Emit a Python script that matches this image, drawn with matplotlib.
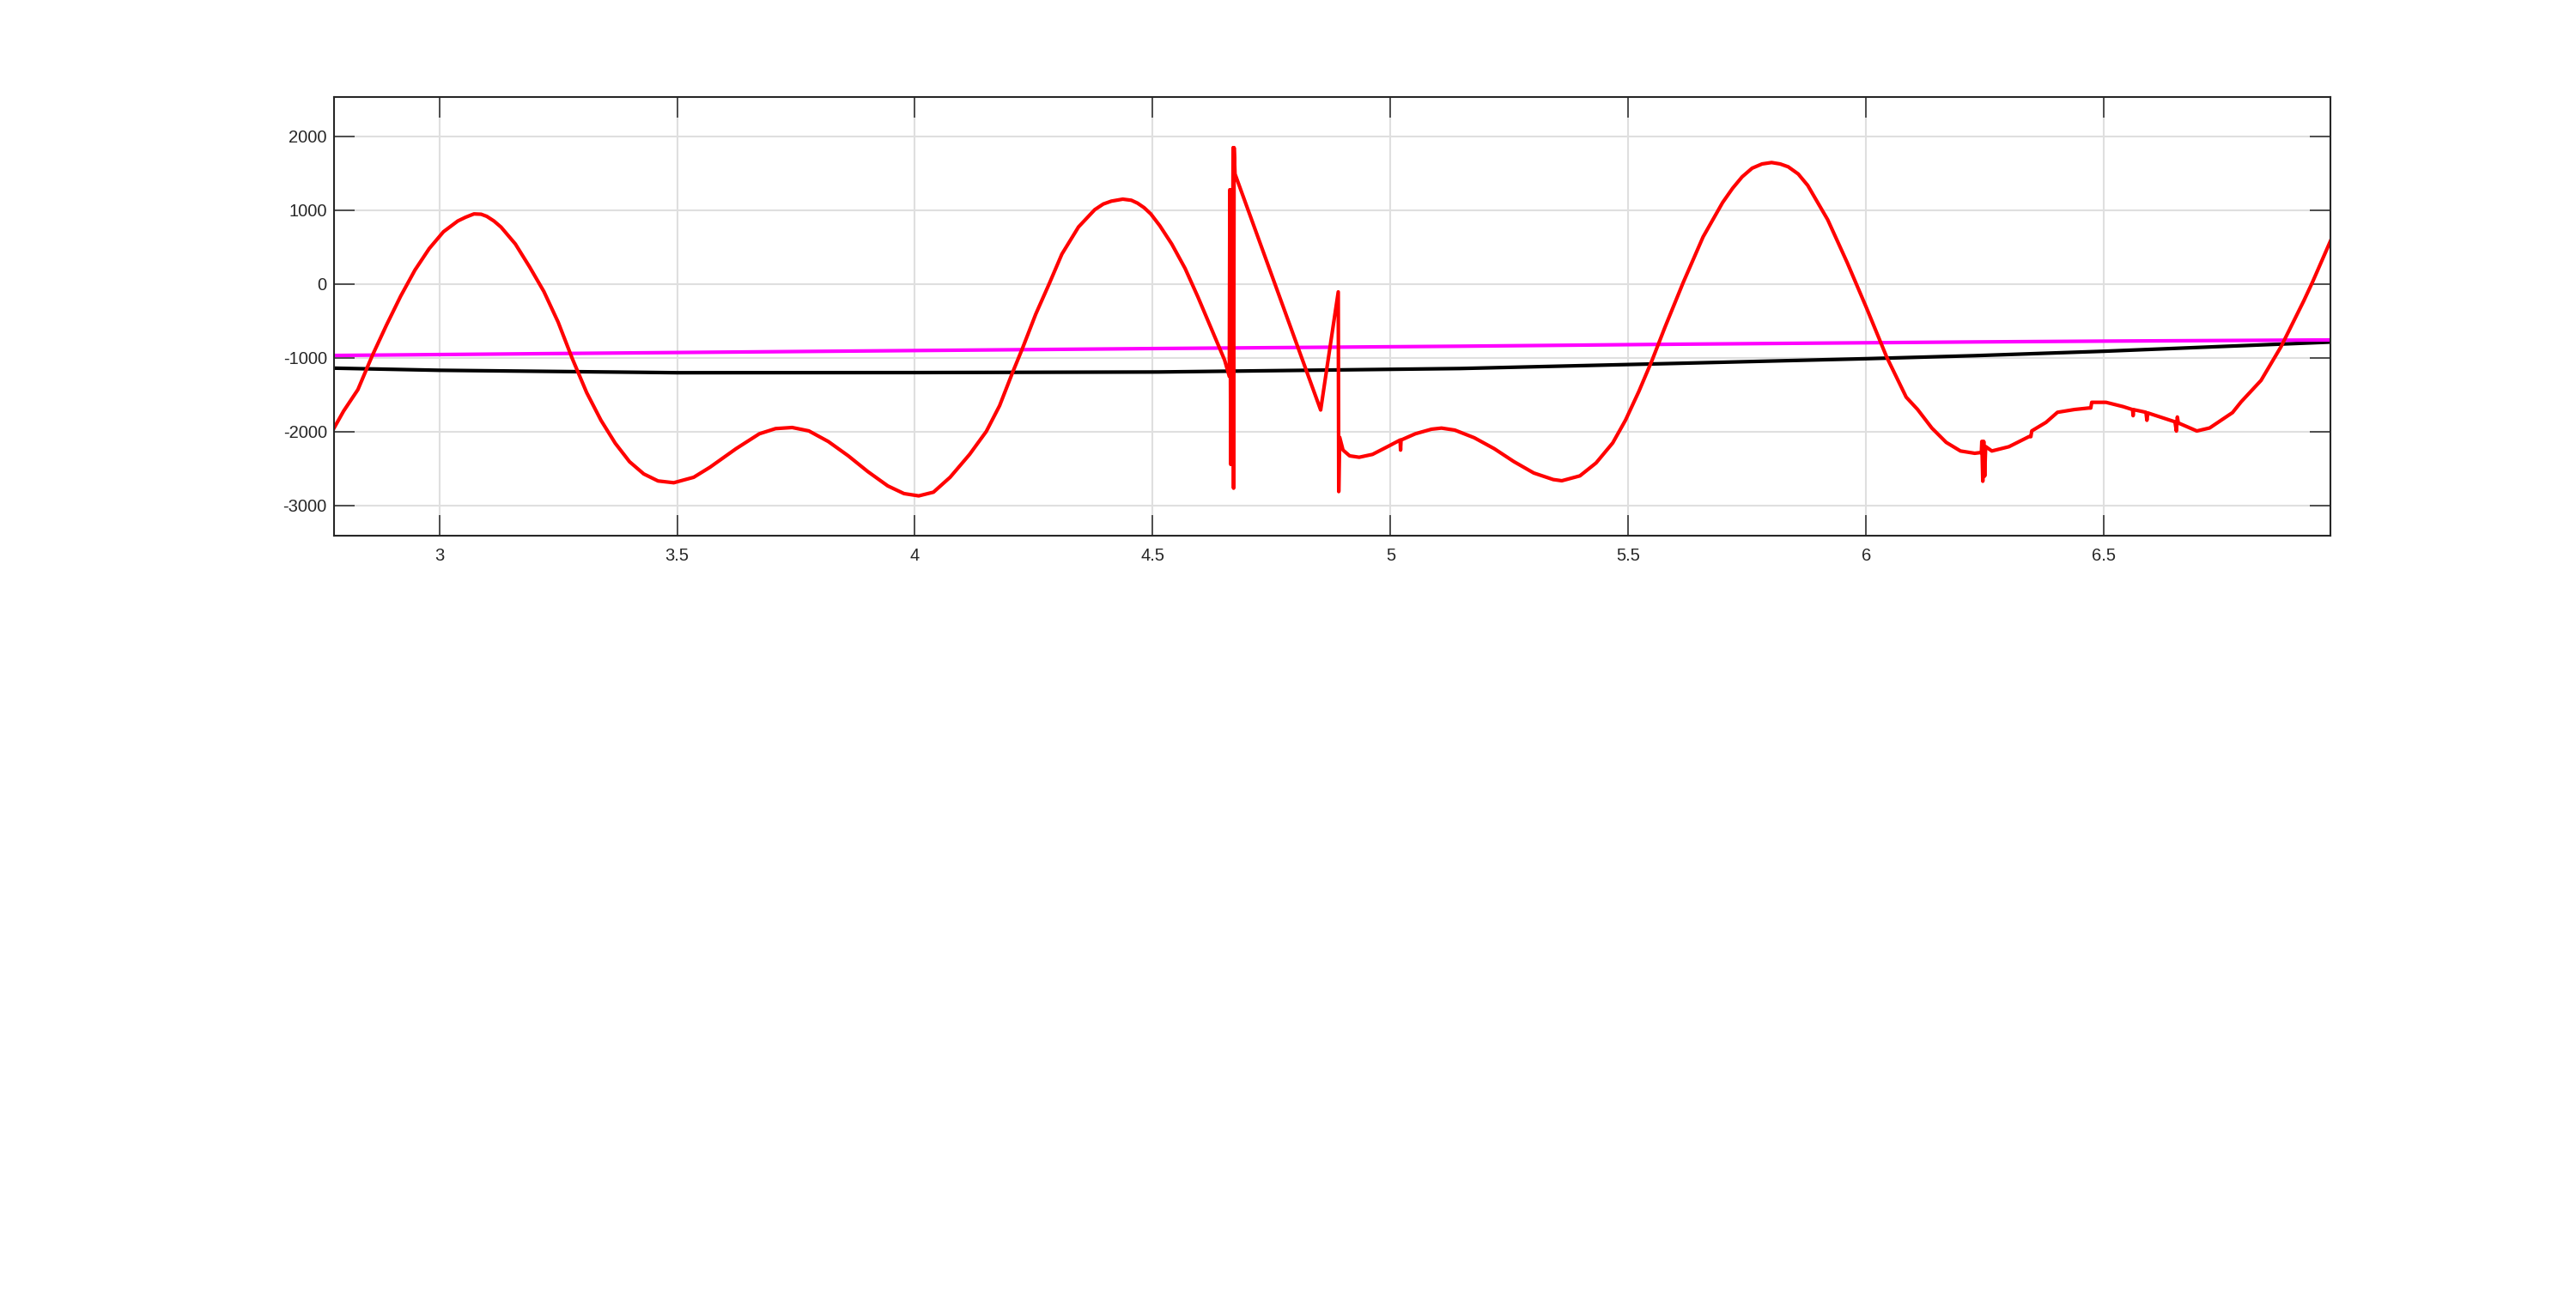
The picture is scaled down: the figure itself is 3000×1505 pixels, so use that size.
import numpy as np
import matplotlib
matplotlib.use('Agg')
import matplotlib.pyplot as plt
from matplotlib.ticker import FormatStrFormatter

plt.rcParams['font.family'] = ['Liberation Sans', 'DejaVu Sans']
plt.rcParams['axes.unicode_minus'] = False

# red trace
red_x = [2.779, 2.799, 2.829, 2.859, 2.889, 2.919, 2.949, 2.979, 3.009, 3.039,
         3.055, 3.073, 3.088, 3.100, 3.115, 3.130, 3.160, 3.190, 3.220, 3.250,
         3.280, 3.310, 3.340, 3.370, 3.400, 3.430, 3.460, 3.493, 3.535, 3.569,
         3.624, 3.673, 3.707, 3.742, 3.777, 3.818, 3.860, 3.901, 3.943, 3.977,
         4.008, 4.039, 4.074, 4.115, 4.150, 4.178, 4.205, 4.226, 4.254, 4.282,
         4.309, 4.344, 4.378, 4.396, 4.413, 4.437, 4.455, 4.468, 4.482, 4.496,
         4.515, 4.540, 4.568, 4.595, 4.623, 4.651, 4.661, 4.662, 4.664, 4.665,
         4.666, 4.669, 4.670, 4.671, 4.673, 4.853, 4.890, 4.891, 4.893, 4.900,
         4.914, 4.934, 4.962, 4.997, 5.020, 5.021, 5.022, 5.052, 5.086, 5.107,
         5.135, 5.176, 5.218, 5.259, 5.301, 5.342, 5.360, 5.398, 5.432, 5.467,
         5.494, 5.522, 5.550, 5.577, 5.615, 5.657, 5.698, 5.719, 5.739, 5.760,
         5.781, 5.801, 5.819, 5.836, 5.857, 5.877, 5.919, 5.960, 6.001, 6.043,
         6.084, 6.108, 6.138, 6.168, 6.198, 6.228, 6.242, 6.243, 6.245, 6.247,
         6.249, 6.251, 6.264, 6.300, 6.342, 6.346, 6.348, 6.378, 6.402, 6.438,
         6.468, 6.472, 6.474, 6.504, 6.540, 6.560, 6.561, 6.562, 6.588, 6.590,
         6.592, 6.649, 6.652, 6.654, 6.656, 6.695, 6.722, 6.770, 6.788, 6.830,
         6.872, 6.920, 6.938, 6.976]
red_y = [-1948, -1719, -1429, -972, -556, -162, 191, 482, 710, 855,
         905, 951, 947, 918, 855, 772, 544, 233, -100, -515,
         -1013, -1470, -1844, -2155, -2405, -2571, -2666, -2690, -2616, -2481,
         -2229, -2027, -1957, -1942, -1988, -2132, -2326, -2539, -2733, -2837,
         -2868, -2818, -2616, -2306, -1996, -1647, -1202, -872, -407, 0,
         407, 775, 1008, 1085, 1124, 1151, 1136, 1097, 1035, 950,
         790, 543, 213, -174, -601, -1027, -1250, 1279, -2442, 1279,
         -2442, 1849, -2764, 1849, 1492, -1705, -105, -2810, -2074, -2248,
         -2326, -2345, -2306, -2190, -2112, -2248, -2112, -2027, -1965, -1950,
         -1977, -2081, -2229, -2403, -2558, -2647, -2663, -2597, -2422, -2151,
         -1841, -1453, -1027, -581, 19, 640, 1105, 1298, 1453, 1570,
         1628, 1647, 1628, 1589, 1492, 1337, 872, 291, -329, -988,
         -1531, -1698, -1950, -2143, -2260, -2291, -2280, -2130, -2670, -2130,
         -2600, -2200, -2260, -2202, -2066, -2066, -1988, -1872, -1736, -1698,
         -1678, -1678, -1601, -1601, -1659, -1700, -1782, -1700, -1736, -1844,
         -1745, -1865, -1990, -1800, -1880, -1989, -1948, -1740, -1595, -1304,
         -847, -224, 25, 586]

# magenta trace
mag_x = [2.779, 3.431, 4.515, 5.146, 5.597, 6.228, 6.500, 6.976]
mag_y = [-966, -930, -872, -841, -814, -783, -772, -756]

# black trace
blk_x = [2.779, 3.000, 3.431, 3.500, 4.000, 4.512, 5.146, 5.597, 6.000, 6.228, 6.500, 6.976]
blk_y = [-1138, -1167, -1195, -1200, -1198, -1190, -1143, -1074, -1010, -969, -909, -785]

x_ticks = [3, 3.5, 4, 4.5, 5, 5.5, 6, 6.5]
y_ticks = [-3000, -2000, -1000, 0, 1000, 2000]

fig = plt.figure(figsize=(30, 15.05), dpi=100)
ax = fig.add_axes([0.1297, 0.5854, 0.775, 0.3396])

ax.plot(blk_x, blk_y, color='black', lw=3)
ax.plot(mag_x, mag_y, color='#ff00ff', lw=3)
ax.plot(red_x, red_y, color='red', lw=3)

ax.set_xlim(2.779, 6.976)
ax.set_ylim(-3407, 2536)
ax.set_xticks(x_ticks)
ax.set_yticks(y_ticks)
ax.xaxis.set_major_formatter(FormatStrFormatter('%g'))
ax.grid(True, color='#dfdfdf', lw=1.5)
ax.set_axisbelow(True)

for s in ax.spines.values():
    s.set_color('#262626')
    s.set_linewidth(1.5)
ax.tick_params(direction='in', length=17, width=1.1, colors='#262626',
               labelsize=14.5, top=True, right=True)
ax.tick_params(axis='x', pad=10)
ax.tick_params(axis='y', pad=6)

fig.savefig('out.png', dpi=100)
